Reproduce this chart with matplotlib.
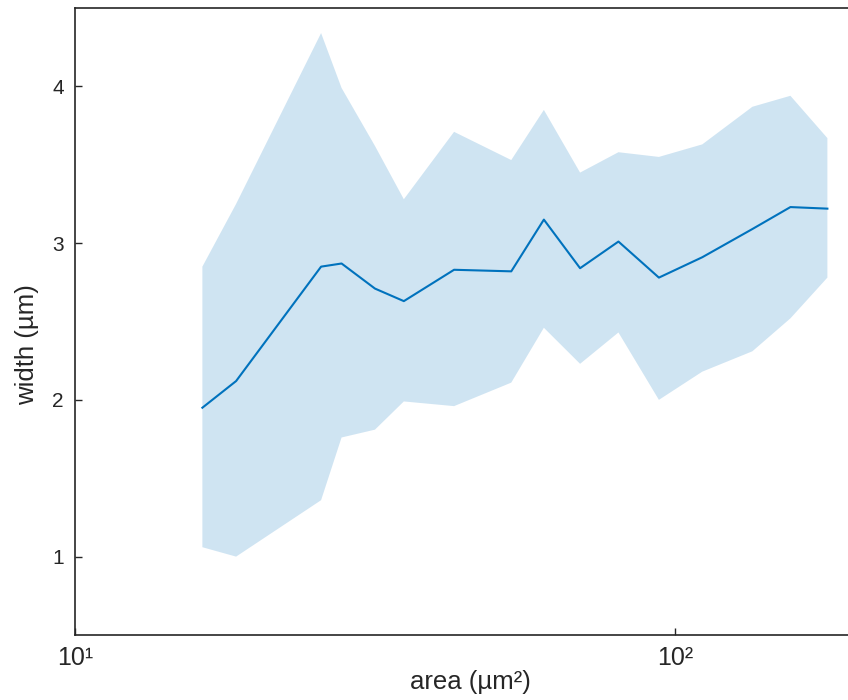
import matplotlib
matplotlib.use("Agg")
import matplotlib.pyplot as plt
import numpy as np

plt.rcParams['font.family'] = ['Liberation Sans', 'DejaVu Sans']

# binned cell area vs. width: mean and spread
area = [16.3, 18.55, 25.7, 27.8, 31.6, 35.3, 42.8, 53.3, 60.4, 69.4,
        80.4, 93.9, 110.9, 134.4, 155.5, 179.2]
width_mean = [1.95, 2.12, 2.85, 2.87, 2.71, 2.63, 2.83, 2.82, 3.15, 2.84,
              3.01, 2.78, 2.91, 3.09, 3.23, 3.22]
width_hi = [2.85, 3.25, 4.34, 3.99, 3.62, 3.28, 3.71, 3.53, 3.85, 3.45,
            3.58, 3.55, 3.63, 3.87, 3.94, 3.67]
width_lo = [1.06, 1.0, 1.36, 1.76, 1.81, 1.99, 1.96, 2.11, 2.46, 2.23,
            2.43, 2.0, 2.18, 2.31, 2.52, 2.78]

blue = '#0072BD'
dark = '#262626'

fig = plt.figure(figsize=(8.48, 7.0), dpi=100)
ax = fig.add_axes([75 / 848, 65 / 700, 790 / 848, 627 / 700])

ax.fill_between(area, width_lo, width_hi, facecolor=blue, alpha=0.19, linewidth=0)
ax.plot(area, width_mean, color=blue, linewidth=1.5)

ax.set_xscale('log')
ax.set_xlim(10, 207)
ax.set_ylim(0.5, 4.5)

ax.set_xticks([10, 100])
ax.set_xticklabels(['10¹', '10²'])
ax.xaxis.set_minor_locator(matplotlib.ticker.NullLocator())
ax.set_yticks([1, 2, 3, 4])

ax.tick_params(direction='in', length=5, width=1, colors=dark,
               top=False, right=False)
ax.tick_params(axis='x', pad=8, labelsize=18)
ax.tick_params(axis='y', pad=8, labelsize=15)

for s in ax.spines.values():
    s.set_color(dark)
    s.set_linewidth(1.2)
ax.spines['right'].set_visible(False)

ax.set_xlabel('area (µm²)', fontsize=18.5, color=dark, labelpad=0)
ax.set_ylabel('width (µm)', fontsize=18.5, color=dark)
ax.yaxis.set_label_coords(-0.046, 0.464)

fig.savefig('out.png', dpi=100)
